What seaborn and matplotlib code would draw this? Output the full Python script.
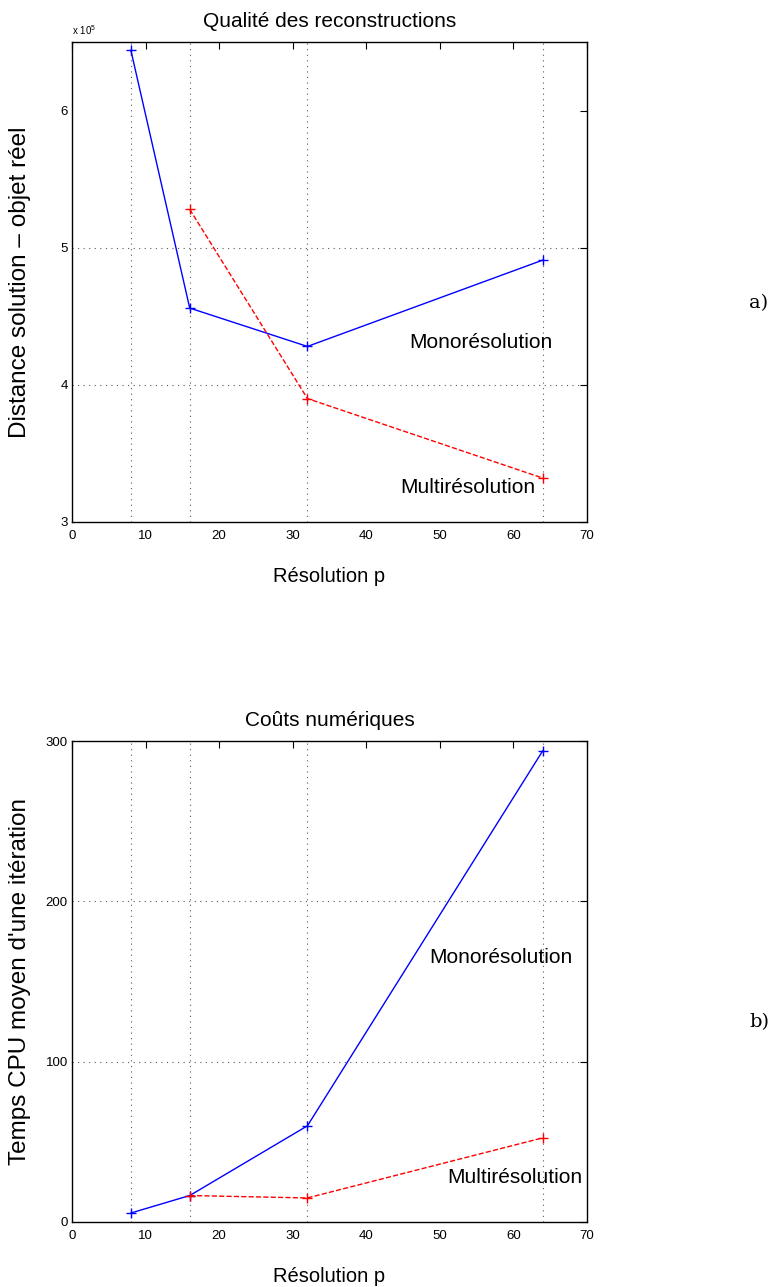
import numpy as np
import pandas as pd
import matplotlib
matplotlib.use("Agg")
import matplotlib.pyplot as plt
import seaborn as sns

# data
resolution_mono = [8, 16, 32, 64]
resolution_multi = [16, 32, 64]
distance_mono = [6.44, 4.56, 4.28, 4.91]      # x 10^5
distance_multi = [5.28, 3.90, 3.32]
cpu_mono = [5.6, 16.5, 60, 294]
cpu_multi = [16.5, 15, 52.5]
grid_x = [8, 16, 32, 64]

sns.set_style("white")
plt.rcParams['font.family'] = ['Liberation Sans', 'DejaVu Sans']
plt.rcParams['mathtext.fontset'] = 'custom'
plt.rcParams['mathtext.rm'] = 'Liberation Sans'
plt.rcParams['text.color'] = 'black'
plt.rcParams['axes.labelcolor'] = 'black'
plt.rcParams['xtick.color'] = 'black'
plt.rcParams['ytick.color'] = 'black'

fig = plt.figure(figsize=(7.74, 12.87), dpi=100)
ax1 = fig.add_axes([72 / 774, 1 - 522 / 1287, 515 / 774, 480 / 1287])
ax2 = fig.add_axes([72 / 774, 1 - 1222 / 1287, 515 / 774, 481 / 1287])


def draw_panel(ax, x_mono, y_mono, x_multi, y_multi, yticks, ylim, title, ylabel):
    sns.lineplot(x=x_mono, y=y_mono, ax=ax, color='blue', lw=1,
                 marker='+', markersize=7, mew=1, mec='blue')
    sns.lineplot(x=x_multi, y=y_multi, ax=ax, color='red', lw=1,
                 linestyle='--', dashes=(6, 4), marker='+', markersize=7,
                 mew=1, mec='red')
    for gx in grid_x:
        ax.axvline(gx, color='0.35', lw=0.8, ls=(0, (1, 4)), zorder=0)
    for gy in yticks[1:-1]:
        ax.axhline(gy, color='0.35', lw=0.8, ls=(0, (1, 4)), zorder=0)
    ax.set_xlim(0, 70)
    ax.set_ylim(*ylim)
    ax.set_xticks(range(0, 71, 10))
    ax.set_yticks(yticks)
    ax.tick_params(direction='in', top=True, right=True, length=5,
                   width=0.8, labelsize=9.5)
    ax.tick_params(axis='x', pad=6)
    ax.tick_params(axis='y', pad=3)
    for s in ax.spines.values():
        s.set_color('black')
        s.set_linewidth(1.0)
    ax.set_title(title, fontsize=15, pad=11)
    ax.set_xlabel('Résolution p', fontsize=14.5, labelpad=18)
    ax.set_ylabel(ylabel, fontsize=17.5)
    ax.yaxis.set_label_coords(-0.08, 0.5)


draw_panel(ax1, resolution_mono, distance_mono, resolution_multi, distance_multi,
           [3, 4, 5, 6], (3, 6.5), 'Qualité des reconstructions',
           'Distance solution \u2013 objet réel')
ax1.text(0.0, 1.01, r'x 10$^5$', transform=ax1.transAxes, fontsize=7,
         ha='left', va='bottom')
ax1.text(45.9, 4.31, 'Monorésolution', fontsize=15, va='center')
ax1.text(44.6, 3.25, 'Multirésolution', fontsize=15, va='center')

draw_panel(ax2, resolution_mono, cpu_mono, resolution_multi, cpu_multi,
           [0, 100, 200, 300], (0, 300), 'Coûts numériques',
           "Temps CPU moyen d'une itération")
ax2.text(48.5, 165, 'Monorésolution', fontsize=15, va='center')
ax2.text(51.0, 27.5, 'Multirésolution', fontsize=15, va='center')

fig.text(759 / 774, 1 - 303 / 1287, 'a)', family='DejaVu Serif', fontsize=14,
         ha='center', va='center')
fig.text(759 / 774, 1 - 1022 / 1287, 'b)', family='DejaVu Serif', fontsize=14,
         ha='center', va='center')

fig.savefig('out.png', dpi=100)
